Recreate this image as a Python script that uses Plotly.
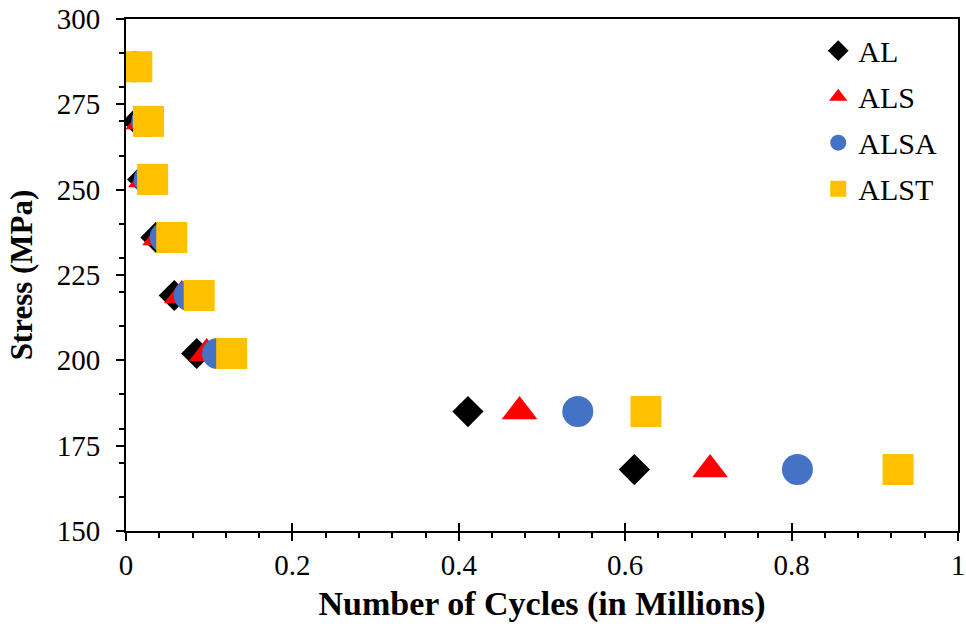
import plotly.graph_objects as go

# Data
stress = [286, 270, 253, 236, 219, 202, 185, 168]
cycles_al = [0.009, 0.014, 0.020, 0.036, 0.058, 0.085, 0.411, 0.611]
cycles_als = [0.010, 0.021, 0.024, 0.041, 0.067, 0.097, 0.473, 0.702]
cycles_alsa = [0.011, 0.025, 0.028, 0.047, 0.076, 0.110, 0.543, 0.807]
cycles_alst = [0.013, 0.027, 0.032, 0.055, 0.088, 0.127, 0.625, 0.928]

series_names = ["AL", "ALS", "ALSA", "ALST"]
series_x = [cycles_al, cycles_als, cycles_alsa, cycles_alst]
symbols = ["diamond", "triangle-up", "circle", "square"]
colors = ["#000000", "#FF0000", "#4472C4", "#FFC000"]
sizes = [24, 31, 31, 31]

x_ticks = [0, 0.2, 0.4, 0.6, 0.8, 1]
x_tick_text = ["0", "0.2", "0.4", "0.6", "0.8", "1"]
y_ticks = [150, 175, 200, 225, 250, 275, 300]

FONT = "Liberation Serif, Times New Roman, serif"

fig = go.Figure()
for name, xs, sym, col, sz in zip(series_names, series_x, symbols, colors, sizes):
    fig.add_trace(go.Scatter(
        x=xs, y=stress, mode="markers", name=name, legendgroup=name,
        marker=dict(symbol=sym, color=col, size=sz, line=dict(width=0)),
    ))

# invisible trace on overlay axis to draw inward half of crossing major ticks
fig.add_trace(go.Scatter(x=[None], y=[None], xaxis="x2", showlegend=False,
                         hoverinfo="skip"))

fig.update_layout(
    width=966, height=627,
    paper_bgcolor="white", plot_bgcolor="white",
    margin=dict(l=126, r=8, t=19, b=96, autoexpand=False),
    font=dict(family=FONT, size=29, color="black"),
    showlegend=True,
    legend=dict(
        x=0.832, y=0.989, xanchor="left", yanchor="top",
        bgcolor="rgba(0,0,0,0)", font=dict(family=FONT, size=30),
        tracegroupgap=4, itemwidth=30,
    ),
    xaxis=dict(
        range=[0, 1], tickvals=x_ticks, ticktext=x_tick_text,
        showgrid=False, zeroline=False, automargin=False,
        showline=True, linecolor="black", linewidth=2, mirror=True,
        ticks="outside", ticklen=8, tickwidth=2, tickcolor="black",
        ticklabelstandoff=-1,
        minor=dict(dtick=0.04, ticks="outside", ticklen=5, tickwidth=1.5,
                   tickcolor="black", showgrid=False),
        tickfont=dict(family=FONT, size=29),
        title=dict(text="<b>Number of Cycles (in Millions)</b>",
                   font=dict(family=FONT, size=34), standoff=11),
    ),
    xaxis2=dict(
        range=[0, 1], overlaying="x", side="bottom", tickvals=x_ticks,
        showticklabels=False, showgrid=False, zeroline=False, showline=False,
        automargin=False,
        ticks="inside", ticklen=8, tickwidth=2, tickcolor="black",
    ),
    yaxis=dict(
        range=[150, 300], tickvals=y_ticks,
        showgrid=False, zeroline=False, automargin=False,
        showline=True, linecolor="black", linewidth=2, mirror=True,
        ticks="outside", ticklen=8, tickwidth=2, tickcolor="black",
        ticklabelstandoff=10,
        minor=dict(dtick=10, ticks="outside", ticklen=5, tickwidth=1.5,
                   tickcolor="black", showgrid=False),
        tickfont=dict(family=FONT, size=29),
        title=dict(text="<b>Stress (MPa)</b>",
                   font=dict(family=FONT, size=31), standoff=15),
    ),
)

# remove the browser's default 8px body margin so the figure fills the window
fig.write_html("out.html",
               config={"displayModeBar": False},
               post_script="document.body.style.margin='0';")
